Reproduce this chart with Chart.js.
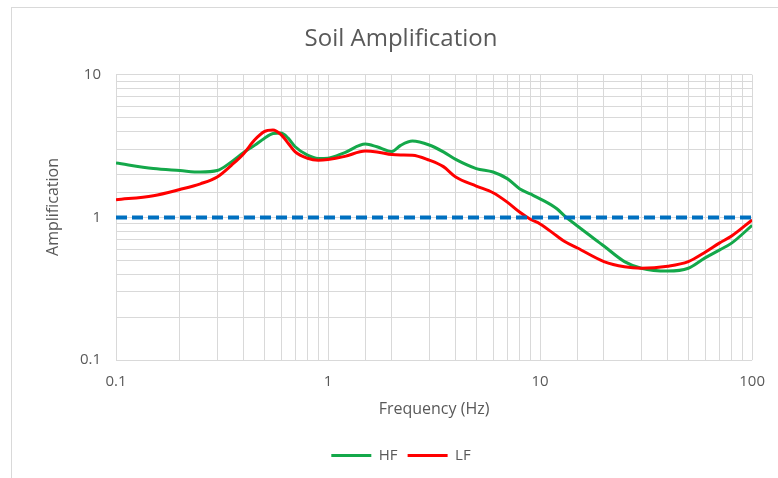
<!DOCTYPE html>
<html>
<head>
<meta charset="utf-8">
<script src="https://cdn.jsdelivr.net/npm/chart.js@4"></script>
<style>
  html, body { margin: 0; padding: 0; background: #fff; }
  #wrap { position: relative; width: 778px; height: 478px; }
  #frame { position: absolute; left: 11px; top: 7px; width: 800px; height: 500px;
           border: 1px solid #d9d9d9; pointer-events: none; }
</style>
</head>
<body>
<div id="wrap">
  <canvas id="chart" width="778" height="478"></canvas>
  <div id="frame"></div>
</div>
<script>
// frequencies (Hz) where the curves were read
var freq = [0.1, 0.15, 0.2, 0.25, 0.3, 0.35, 0.4, 0.45, 0.5, 0.55, 0.6, 0.65, 0.7, 0.8, 0.9, 1.0,
            1.2, 1.5, 1.7, 2.0, 2.2, 2.5, 3.0, 3.5, 4.0, 5, 6, 7, 8, 9, 10,
            12, 13, 15, 20, 25, 30, 40, 50, 60, 70, 80, 100];
// HF amplification
var hf = [2.41, 2.2, 2.13, 2.08, 2.13, 2.45, 2.85, 3.2, 3.58, 3.87, 3.9, 3.58, 3.13, 2.73, 2.59, 2.6,
          2.85, 3.27, 3.13, 2.9, 3.2, 3.43, 3.22, 2.88, 2.55, 2.2, 2.08, 1.87, 1.59, 1.46, 1.35,
          1.15, 1.03, 0.87, 0.63, 0.49, 0.44, 0.42, 0.44, 0.52, 0.59, 0.66, 0.88];
// LF amplification
var lf = [1.33, 1.42, 1.57, 1.72, 1.92, 2.32, 2.8, 3.49, 4.0, 4.1, 3.8, 3.3, 2.88, 2.6, 2.52, 2.55,
          2.68, 2.92, 2.88, 2.76, 2.74, 2.73, 2.52, 2.27, 1.92, 1.66, 1.49, 1.28, 1.09, 0.97, 0.9,
          0.74, 0.68, 0.61, 0.49, 0.45, 0.44, 0.455, 0.49, 0.57, 0.66, 0.74, 0.96];
// unity reference line
var refFreq = [0.1, 100];
var refVals = [1, 1];
var xLabelTicks = [0.1, 1, 10, 100];
var yLabelTicks = [0.1, 1, 10];

function pts(xs, ys) {
  return xs.map(function (x, i) { return { x: x, y: ys[i] }; });
}

var grey = '#595959';
var font = 'Open Sans';

// y axis title, placed a little above the plot centre like the original
var yTitle = {
  id: 'yTitle',
  afterDraw: function (c) {
    var g = c.ctx;
    g.save();
    g.translate(53, 207);
    g.rotate(-Math.PI / 2);
    g.font = '16px "' + font + '"';
    g.fillStyle = grey;
    g.textAlign = 'center';
    g.textBaseline = 'middle';
    g.fillText('Amplification', 0, 0);
    g.restore();
  }
};

var ctx = document.getElementById('chart').getContext('2d');
var chart = new Chart(ctx, {
  type: 'line',
  data: {
    datasets: [
      {
        label: 'ref',
        data: pts(refFreq, refVals),
        borderColor: '#0070C0',
        backgroundColor: '#0070C0',
        borderWidth: 4,
        borderDash: [11, 5],
        pointRadius: 0
      },
      {
        label: 'LF',
        data: pts(freq, lf),
        borderColor: '#FF0000',
        backgroundColor: '#FF0000',
        borderWidth: 3,
        pointRadius: 0,
        cubicInterpolationMode: 'monotone'
      },
      {
        label: 'HF',
        data: pts(freq, hf),
        borderColor: '#14A84A',
        backgroundColor: '#14A84A',
        borderWidth: 3,
        pointRadius: 0,
        cubicInterpolationMode: 'monotone'
      }
    ]
  },
  plugins: [yTitle],
  options: {
    responsive: false,
    animation: false,
    layout: { padding: { left: 24, right: 0, top: 0, bottom: 5 } },
    plugins: {
      title: {
        display: true,
        text: 'Soil Amplification',
        color: grey,
        font: { family: font, size: 24, weight: 'normal' },
        padding: { top: 25, bottom: 21 }
      },
      legend: {
        position: 'bottom',
        labels: {
          color: grey,
          font: { family: font, size: 15 },
          boxWidth: 40,
          boxHeight: 3,
          padding: 10,
          filter: function (item) { return item.text !== 'ref'; },
          sort: function (a, b) { return b.datasetIndex - a.datasetIndex; },
          generateLabels: function (c) {
            var items = Chart.defaults.plugins.legend.labels.generateLabels(c);
            items.forEach(function (it) { it.lineWidth = 0; it.lineDash = []; });
            return items;
          }
        }
      },
      tooltip: { enabled: false }
    },
    scales: {
      x: {
        type: 'logarithmic',
        min: 0.1,
        max: 100,
        grid: { color: '#d9d9d9', drawTicks: false },
        border: { display: false },
        ticks: {
          autoSkip: false,
          maxRotation: 0,
          padding: 13,
          color: grey,
          font: { family: font, size: 15 },
          callback: function (v) { return xLabelTicks.indexOf(v) >= 0 ? String(v) : ''; }
        },
        title: {
          display: true,
          text: 'Frequency (Hz)',
          color: grey,
          font: { family: font, size: 16 },
          padding: { top: 4, bottom: 19 }
        },
        afterFit: function (s) { s.height = 78; }
      },
      y: {
        type: 'logarithmic',
        min: 0.1,
        max: 10,
        grid: { color: '#d9d9d9', drawTicks: false },
        border: { display: false },
        ticks: {
          autoSkip: false,
          padding: 15,
          color: grey,
          font: { family: font, size: 15 },
          callback: function (v) { return yLabelTicks.indexOf(v) >= 0 ? String(v) : ''; }
        },
        afterFit: function (s) { s.width = 92; }
      },
      // empty right-hand axis, only reserves the margin right of the plot
      yRight: {
        position: 'right',
        display: true,
        grid: { display: false },
        border: { display: false },
        ticks: { display: false },
        afterFit: function (s) { s.width = 24; }
      }
    }
  }
});
</script>
</body>
</html>
